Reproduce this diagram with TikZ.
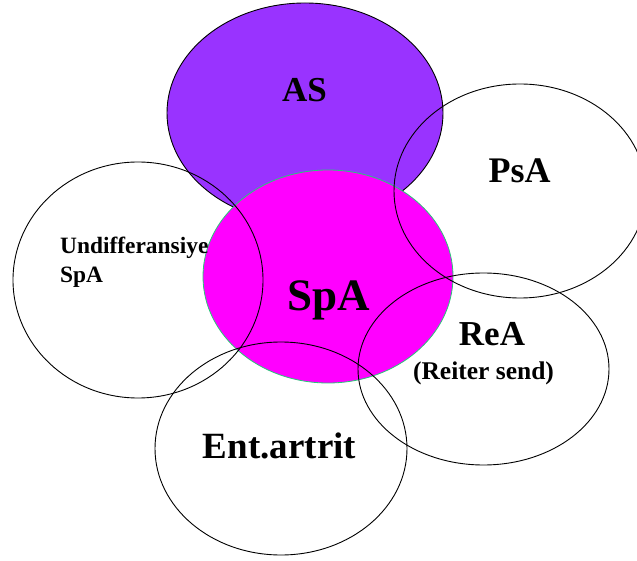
\documentclass[tikz,border=0pt]{standalone}
\usepackage{fontspec}
\setmainfont{Liberation Serif}
\definecolor{aspurple}{RGB}{153,51,255}
\definecolor{spamag}{RGB}{255,0,255}
\definecolor{spaedge}{RGB}{40,200,120}
\begin{document}
\begin{tikzpicture}[x=1pt,y=-1pt,
  ring/.style={draw=black,line width=0.9pt},
  lbl/.style={inner sep=0pt,font=\bfseries},
]
\useasboundingbox[fill=white] (0,0) rectangle (637,561);
% filled regions
\fill[aspurple] (305,113) ellipse [x radius=138,y radius=110];
\draw[ring] (305,113) ellipse [x radius=138,y radius=110];
\filldraw[fill=spamag,draw=spaedge,line width=0.8pt] (328,276.5) ellipse [x radius=125,y radius=106.5];
% outline rings
\draw[ring] (520,191) ellipse [x radius=126,y radius=107];
\draw[ring] (138,280) ellipse [x radius=125,y radius=118];
\draw[ring] (483.5,369) ellipse [x radius=125.5,y radius=96];
\draw[ring] (281,448.5) ellipse [x radius=126,y radius=106.5];
% labels
\node[lbl,anchor=base,font=\bfseries\fontsize{35}{40}\selectfont] (as) at (304.5,102) {AS};
\node[lbl,anchor=base,font=\bfseries\fontsize{36}{40}\selectfont] (psa) at (519.5,183) {PsA};
\node[lbl,anchor=base,font=\bfseries\fontsize{45}{50}\selectfont] (spa) at (328.5,310) {SpA};
\node[lbl,anchor=base west,font=\bfseries\fontsize{23.4}{29}\selectfont] (und1) at (60,254) {Undifferansiye};
\node[lbl,anchor=base west,font=\bfseries\fontsize{23.4}{29}\selectfont] (und2) at (60,283) {SpA};
\node[lbl,anchor=base,font=\bfseries\fontsize{35}{40}\selectfont] (rea) at (492,345) {ReA};
\node[lbl,anchor=base,font=\bfseries\fontsize{25.5}{30}\selectfont] (reiter) at (483.5,379) {(Reiter send)};
\node[lbl,anchor=base,font=\bfseries\fontsize{37}{42}\selectfont] (ent) at (279.5,458) {Ent.artrit};
\end{tikzpicture}
\end{document}
